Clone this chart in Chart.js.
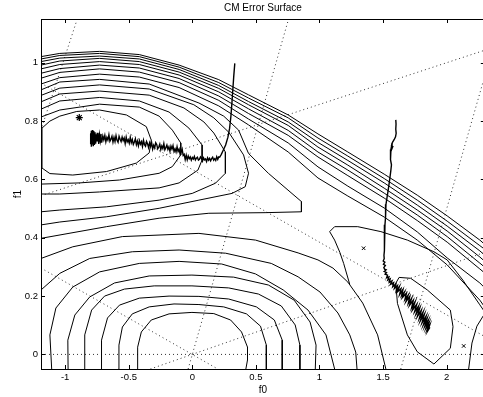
<!DOCTYPE html>
<html>
<head>
<meta charset="utf-8">
<script src="https://cdn.jsdelivr.net/npm/chart.js@4"></script>
<style>
  html, body { margin: 0; padding: 0; background: #fff; overflow: hidden; }
  #wrap { width: 490px; height: 397px; }
</style>
</head>
<body>
<div id="wrap"><canvas id="c" width="490" height="397"></canvas></div>
<script>
// CM error surface — contours over (f0, f1), two descent paths, reference lines
const titleText = 'CM Error Surface';
const xTicks = [-1, -0.5, 0, 0.5, 1, 1.5, 2];
const yTicks = [0, 0.2, 0.4, 0.6, 0.8, 1];

// dome around the origin
const arc1 = [[-0.430,-0.05],[-0.430,0.025],[-0.401,0.077],[-0.323,0.118],[-0.183,0.139],[-0.003,0.144],[0.169,0.140],[0.301,0.118],[0.387,0.077],[0.434,0.025],[0.434,-0.019],[0.421,-0.05]];
const arc2 = [[-0.579,-0.05],[-0.577,0.032],[-0.550,0.094],[-0.472,0.139],[-0.339,0.163],[-0.144,0.173],[0.052,0.171],[0.247,0.163],[0.426,0.139],[0.536,0.097],[0.582,0.032],[0.582,-0.05]];
const arc3 = [[-0.716,-0.05],[-0.714,0.049],[-0.667,0.125],[-0.573,0.169],[-0.417,0.193],[-0.183,0.200],[0.052,0.199],[0.286,0.190],[0.504,0.163],[0.645,0.118],[0.707,0.049],[0.707,-0.05]];
const arc4 = [[-0.846,-0.05],[-0.846,0.067],[-0.792,0.152],[-0.690,0.200],[-0.534,0.224],[-0.300,0.235],[-0.003,0.235],[0.286,0.228],[0.520,0.207],[0.700,0.166],[0.809,0.101],[0.846,0.032],[0.846,-0.05]];
const arc5 = [[-0.977,-0.05],[-0.979,0.049],[-0.924,0.135],[-0.807,0.197],[-0.612,0.245],[-0.339,0.269],[-0.003,0.272],[0.325,0.265],[0.598,0.238],[0.801,0.186],[0.926,0.111],[0.973,0.032],[0.967,-0.05]];
const arc6 = [[-1.106,-0.05],[-1.120,0.067],[-1.073,0.159],[-0.940,0.231],[-0.729,0.283],[-0.417,0.312],[-0.104,0.319],[0.231,0.310],[0.497,0.276],[0.715,0.221],[0.910,0.152],[1.051,0.067],[1.119,-0.05]];
const arc7 = [[-1.190,0.221],[-1.042,0.278],[-0.807,0.329],[-0.472,0.352],[-0.104,0.358],[0.262,0.347],[0.621,0.312],[0.832,0.266],[1.004,0.214],[1.145,0.142],[1.238,0.067],[1.285,0.008],[1.295,-0.05]];
const arc8 = [[-1.190,0.329],[-0.940,0.369],[-0.550,0.404],[0.052,0.415],[0.497,0.392],[0.832,0.348],[0.988,0.324],[1.106,0.296],[1.223,0.248],[1.340,0.176],[1.457,0.067],[1.522,-0.05]];
const arc9 = [[2.173,-0.05],[2.199,0.039],[2.238,0.097],[2.316,0.152]];

// basin on the upper left
const lm1 = [[-1.182,0.776],[-1.120,0.800],[-1.042,0.817],[-0.909,0.833],[-0.729,0.838],[-0.518,0.821],[-0.362,0.781],[-0.323,0.735],[-0.339,0.691],[-0.440,0.656],[-0.675,0.627],[-0.940,0.615],[-1.120,0.620],[-1.182,0.639],[-1.182,0.776]];
const lm2 = [[-1.190,0.814],[-1.042,0.838],[-0.729,0.858],[-0.417,0.848],[-0.261,0.817],[-0.157,0.769],[-0.091,0.725],[-0.091,0.684],[-0.157,0.644],[-0.261,0.621],[-0.573,0.598],[-0.886,0.588],[-1.190,0.584]];
const lm3 = [[-1.190,0.841],[-1.042,0.869],[-0.729,0.881],[-0.417,0.869],[-0.183,0.831],[-0.027,0.776],[0.077,0.718],[0.077,0.667],[0.044,0.632],[-0.104,0.588],[-0.261,0.571],[-0.729,0.557],[-1.042,0.550],[-1.190,0.550]];
const lm4 = [[-1.190,0.866],[-1.042,0.893],[-0.729,0.903],[-0.339,0.889],[-0.066,0.845],[0.091,0.797],[0.169,0.759],[0.260,0.694],[0.260,0.621],[0.182,0.587],[-0.001,0.552],[-0.261,0.529],[-0.675,0.506],[-1.042,0.495],[-1.190,0.489]];
const lm5 = [[-1.190,0.888],[-1.042,0.913],[-0.729,0.924],[-0.339,0.910],[0.012,0.856],[0.169,0.811],[0.286,0.762],[0.403,0.684],[0.442,0.621],[0.416,0.575],[0.312,0.552],[0.052,0.529],[-0.261,0.501],[-0.675,0.472],[-1.042,0.454],[-1.190,0.444]];
const lm6 = [[-1.190,0.907],[-1.042,0.934],[-0.729,0.943],[-0.339,0.927],[0.052,0.862],[0.247,0.817],[0.364,0.769],[0.442,0.689],[0.598,0.621],[0.858,0.524],[0.858,0.489],[0.572,0.486],[0.130,0.484],[-0.261,0.467],[-0.675,0.438],[-1.190,0.398]];

// outer levels sweeping down to the right
const topX = [-1.190,-1.042,-0.729,-0.417,-0.104,0.208,0.442,0.754,0.988,1.223,1.509,1.769,2.004,2.261,2.316];
const top1 = [1.021,1.032,1.039,1.028,0.992,0.942,0.890,0.821,0.756,0.694,0.618,0.546,0.475,0.392,0.371];
const top2 = [1.013,1.025,1.032,1.021,0.985,0.932,0.879,0.811,0.742,0.680,0.603,0.529,0.457,0.373,0.355];
const top3 = [1.004,1.016,1.023,1.013,0.977,0.922,0.867,0.797,0.727,0.665,0.588,0.512,0.440,0.355,0.334];
const top4 = [0.992,1.006,1.015,1.004,0.968,0.912,0.856,0.785,0.711,0.649,0.570,0.495,0.423,0.334,0.313];
const top5 = [0.979,0.994,1.004,0.994,0.958,0.900,0.842,0.768,0.694,0.632,0.553,0.478,0.404,0.313,0.293];
const top6 = [0.964,0.980,0.992,0.982,0.946,0.886,0.826,0.751,0.677,0.613,0.536,0.459,0.385,0.293,0.273];
const top7 = [0.947,0.967,0.979,0.968,0.932,0.871,0.807,0.725,0.643,0.577,0.502,0.420,0.331,0.245,0.221];
const top8 = [0.927,0.949,0.961,0.951,0.915,0.852,0.787,0.694,0.605,0.543,0.471,0.392,0.307,0.186,0.152];

// lower right: saddle level and the basin loop
const boot = [[1.238,0.240],[1.190,0.312],[1.160,0.350],[1.119,0.392],[1.080,0.421],[1.119,0.438],[1.301,0.438],[1.483,0.421],[1.691,0.392],[1.900,0.352],[2.004,0.324],[2.127,0.255],[2.261,0.170],[2.316,0.135]];
const rmLoop = [[1.626,0.264],[1.717,0.261],[1.848,0.221],[2.029,0.152],[2.050,0.095],[2.029,0.021],[1.900,-0.033],[1.769,0.009],[1.691,0.067],[1.613,0.175],[1.600,0.244],[1.626,0.264]];

// dotted reference lines
const refLines = [
  [[-1.19,0],[2.3,0]],
  [[-0.033,-0.05],[0.757,1.15]],
  [[-1.19,0.296],[0.2,-0.05]],
  [[-0.33,-0.05],[2.3,0.35]],
  [[-1.19,0.544],[2.3,1.043]],
  [[-0.905,1.15],[-1.19,0.77]],
  [[1.639,-0.05],[2.3,0.955]],
  [[-1.19,0.93],[2.3,0.061]]
];

// descent paths
const path1 = [[0.334,0.998],[0.326,0.955],[0.318,0.905],[0.311,0.860],[0.303,0.815],[0.293,0.775],[0.280,0.745],[0.262,0.718],[0.243,0.700],[0.228,0.686],[0.215,0.676],
  [0.208,0.677],[0.200,0.669],[0.192,0.678],[0.184,0.665],[0.176,0.671],[0.168,0.666],[0.160,0.676],[0.152,0.671],[0.144,0.664],[0.136,0.672],[0.128,0.666],[0.120,0.674],[0.112,0.661],[0.104,0.670],[0.096,0.667],[0.088,0.674],[0.080,0.663],[0.072,0.672],[0.064,0.677],[0.056,0.669],
  [0.048,0.666],[0.040,0.676],[0.032,0.673],[0.024,0.667],[0.016,0.679],[0.008,0.670],[0.000,0.675],[-0.008,0.666],[-0.016,0.677],[-0.024,0.671],[-0.032,0.680],[-0.040,0.667],[-0.048,0.683],[-0.056,0.668],[-0.064,0.686],[-0.072,0.682],[-0.080,0.704],[-0.088,0.694],[-0.096,0.687],[-0.104,0.704],
  [-0.112,0.696],[-0.120,0.712],[-0.128,0.694],[-0.136,0.705],[-0.144,0.696],[-0.152,0.716],[-0.160,0.704],[-0.168,0.714],[-0.176,0.697],[-0.184,0.712],[-0.192,0.703],[-0.200,0.718],[-0.208,0.709],[-0.216,0.702],[-0.224,0.723],[-0.232,0.706],[-0.240,0.715],[-0.248,0.702],[-0.256,0.721],[-0.264,0.711],
  [-0.272,0.705],[-0.280,0.720],[-0.288,0.726],[-0.296,0.708],[-0.304,0.717],[-0.312,0.704],[-0.320,0.726],[-0.328,0.713],[-0.336,0.725],[-0.344,0.709],[-0.352,0.722],[-0.360,0.730],[-0.368,0.714],[-0.376,0.719],[-0.384,0.734],[-0.392,0.713],[-0.400,0.729],[-0.408,0.721],[-0.416,0.733],[-0.424,0.715],
  [-0.432,0.731],[-0.440,0.719],[-0.448,0.739],[-0.456,0.728],[-0.464,0.720],[-0.472,0.737],[-0.480,0.726],[-0.488,0.744],[-0.496,0.724],[-0.504,0.736],[-0.512,0.729],[-0.520,0.745],[-0.528,0.723],[-0.536,0.742],[-0.544,0.733],[-0.552,0.745],[-0.560,0.730],[-0.568,0.738],[-0.576,0.748],[-0.584,0.727],
  [-0.592,0.734],[-0.600,0.750],[-0.608,0.730],[-0.616,0.744],[-0.624,0.728],[-0.632,0.748],[-0.640,0.738],[-0.648,0.731],[-0.656,0.753],[-0.664,0.735],[-0.672,0.744],[-0.680,0.729],[-0.688,0.751],[-0.696,0.736],[-0.704,0.749],
  [-0.712,0.728],[-0.718,0.756],[-0.724,0.733],[-0.730,0.752],[-0.736,0.722],[-0.742,0.760],[-0.748,0.730],[-0.754,0.755],[-0.760,0.725],[-0.765,0.762],[-0.770,0.718],[-0.775,0.766],[-0.779,0.714],[-0.783,0.769],[-0.787,0.720],[-0.790,0.764],[-0.793,0.712],[-0.795,0.767],[-0.797,0.723],[-0.799,0.758],[-0.800,0.730]];
const path2 = [[1.600,0.804],[1.602,0.790],[1.600,0.772],[1.603,0.758],[1.598,0.746],[1.588,0.737],[1.574,0.727],[1.566,0.716],[1.568,0.703],[1.576,0.712],[1.571,0.724],[1.562,0.703],[1.556,0.684],[1.561,0.668],[1.566,0.650],[1.561,0.630],[1.553,0.603],[1.545,0.578],[1.538,0.557],[1.530,0.535],[1.523,0.515],[1.521,0.494],[1.518,0.470],[1.515,0.445],[1.513,0.420],[1.511,0.397],[1.510,0.375],[1.508,0.355],[1.507,0.340],[1.509,0.328],
  [1.501,0.320],[1.514,0.316],[1.503,0.309],[1.518,0.305],[1.506,0.298],[1.512,0.292],[1.524,0.290],[1.509,0.284],[1.527,0.281],[1.516,0.275],[1.535,0.272],[1.528,0.263],[1.546,0.266],[1.537,0.255],[1.556,0.259],[1.549,0.247],[1.570,0.252],[1.558,0.240],[1.583,0.246],[1.576,0.232],
  [1.598,0.241],[1.589,0.226],[1.613,0.236],[1.604,0.218],[1.627,0.232],[1.612,0.214],[1.641,0.226],[1.630,0.205],[1.656,0.222],[1.645,0.201],[1.668,0.214],[1.652,0.195],[1.684,0.210],[1.672,0.188],[1.697,0.203],[1.680,0.181],[1.710,0.199],[1.698,0.174],[1.724,0.192],[1.708,0.168],
  [1.738,0.186],[1.725,0.160],[1.751,0.180],[1.731,0.152],[1.765,0.172],[1.748,0.146],[1.778,0.165],[1.760,0.139],[1.789,0.160],[1.770,0.130],[1.801,0.152],[1.785,0.123],[1.815,0.146],[1.793,0.115],[1.826,0.139],[1.806,0.108],[1.838,0.131],[1.817,0.101],[1.847,0.124],[1.828,0.096],
  [1.856,0.117],[1.838,0.091],[1.862,0.109],[1.846,0.085],[1.866,0.100],[1.853,0.082],[1.868,0.093],[1.858,0.086]];

// markers
const starPts = [[-0.889,0.812]];
const crossPts = [[1.347,0.364],[2.134,0.029]];

const xy = pts => pts.map(([x, y]) => ({ x, y }));
const zipTop = ys => topX.map((x, i) => ({ x, y: ys[i] }));

const solid = (data, w = 1) => ({ data, showLine: true, borderColor: '#000', borderWidth: w, pointRadius: 0, fill: false, tension: 0 });
const dotted = data => ({ data, showLine: true, borderColor: '#333', borderWidth: 1, borderDash: [1, 3], pointRadius: 0, fill: false });

const datasets = [
  { data: xy(starPts), pointStyle: 'star', pointRadius: 3.5, borderColor: '#000', borderWidth: 1.2, showLine: false },
  { data: xy(crossPts), pointStyle: 'crossRot', pointRadius: 2.5, borderColor: '#000', borderWidth: 1, showLine: false },
  solid(xy(path1), 1.4),
  solid(xy(path2), 1.4),
  ...[arc1, arc2, arc3, arc4, arc5, arc6, arc7, arc8, arc9].map(a => solid(xy(a))),
  ...[lm1, lm2, lm3, lm4, lm5, lm6].map(a => solid(xy(a))),
  ...[top1, top2, top3, top4, top5, top6, top7, top8].map(t => solid(zipTop(t))),
  solid(xy(boot)),
  solid(xy(rmLoop)),
  ...refLines.map(l => dotted(xy(l)))
];

// box, inward ticks and the texts MATLAB puts round the axes
const frame = {
  id: 'frame',
  afterDraw(chart) {
    const { ctx, chartArea: a, scales: { x, y } } = chart;
    ctx.save();
    ctx.strokeStyle = '#000';
    ctx.lineWidth = 1;
    ctx.strokeRect(a.left + 0.5, a.top + 0.5, a.right - a.left, a.bottom - a.top);
    ctx.beginPath();
    xTicks.forEach(v => {
      const px = Math.round(x.getPixelForValue(v)) + 0.5;
      ctx.moveTo(px, a.bottom); ctx.lineTo(px, a.bottom - 4);
      ctx.moveTo(px, a.top); ctx.lineTo(px, a.top + 4);
    });
    yTicks.forEach(v => {
      const py = Math.round(y.getPixelForValue(v)) + 0.5;
      ctx.moveTo(a.left, py); ctx.lineTo(a.left + 4, py);
      ctx.moveTo(a.right, py); ctx.lineTo(a.right - 4, py);
    });
    ctx.stroke();

    ctx.fillStyle = '#000';
    ctx.font = '10px "Liberation Sans", Arial, sans-serif';
    ctx.textAlign = 'center';
    ctx.textBaseline = 'middle';
    const cx = (a.left + a.right) / 2;
    ctx.fillText(titleText, cx, 8);
    ctx.fillText('f0', cx, 390);
    ctx.translate(18, (a.top + a.bottom) / 2);
    ctx.rotate(-Math.PI / 2);
    ctx.fillText('f1', 0, 0);
    ctx.restore();
  }
};

const tickFont = { family: '"Liberation Sans", Arial, sans-serif', size: 9.5 };

new Chart(document.getElementById('c'), {
  type: 'scatter',
  data: { datasets },
  options: {
    responsive: false,
    animation: false,
    devicePixelRatio: 1,
    layout: { padding: { top: 19, right: 2, left: 0, bottom: 0 } },
    plugins: { legend: { display: false }, tooltip: { enabled: false } },
    scales: {
      x: {
        type: 'linear', min: -1.19, max: 2.3,
        grid: { display: false, drawTicks: false },
        border: { display: false },
        afterBuildTicks: s => { s.ticks = xTicks.map(v => ({ value: v })); },
        afterFit: s => { s.height = 28; },
        ticks: { color: '#000', font: tickFont, padding: 3, maxRotation: 0, callback: v => String(v) }
      },
      y: {
        type: 'linear', min: -0.05, max: 1.15,
        grid: { display: false, drawTicks: false },
        border: { display: false },
        afterBuildTicks: s => { s.ticks = yTicks.map(v => ({ value: v })); },
        afterFit: s => { s.width = 41; },
        ticks: { color: '#000', font: tickFont, padding: 3, callback: v => String(v) }
      }
    }
  },
  plugins: [frame]
});
</script>
</body>
</html>
